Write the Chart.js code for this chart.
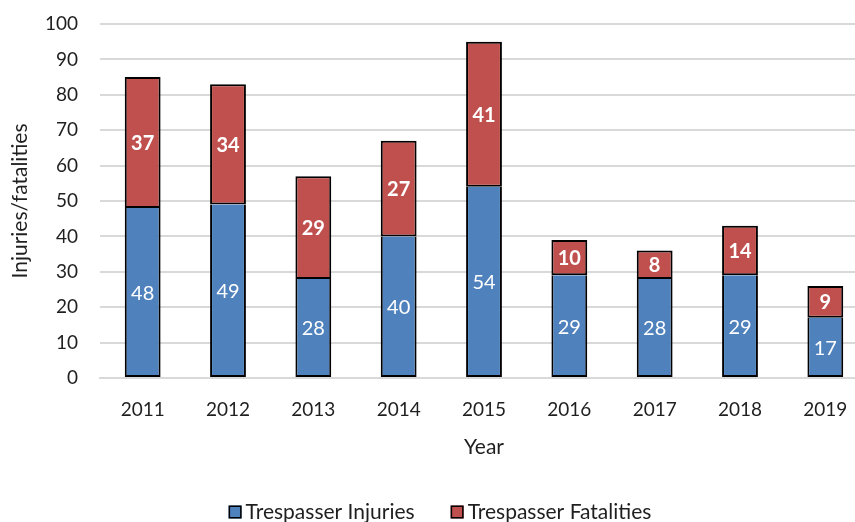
<!DOCTYPE html>
<html lang="en">
<head>
  <meta charset="UTF-8" />
  <title>Trespasser injuries and fatalities</title>
  <script src="https://cdn.jsdelivr.net/npm/chart.js"></script>
  <style>
    html, body { margin: 0; padding: 0; overflow: hidden; background: #fff; }
    #wrap { width: 870px; height: 522px; }
  </style>
</head>
<body>
  <div id="wrap"><canvas id="chart" width="870" height="522"></canvas></div>

  <script>
    const years = ["2011", "2012", "2013", "2014", "2015", "2016", "2017", "2018", "2019"];
    const injuries = [48, 49, 28, 40, 54, 29, 28, 29, 17];
    const fatalities = [37, 34, 29, 27, 41, 10, 8, 14, 9];

    const FONT = "Lato, 'Open Sans', sans-serif";
    const TEXT = "#1f1f1f";

    // value labels centred in each segment
    const valueLabels = {
      id: 'valueLabels',
      afterDatasetsDraw(chart) {
        const ctx = chart.ctx;
        ctx.save();
        ctx.fillStyle = '#fff';
        ctx.textAlign = 'center';
        ctx.textBaseline = 'middle';
        chart.data.datasets.forEach((ds, i) => {
          ctx.font = (i === 1 ? 'bold ' : '') + '20px ' + FONT;
          chart.getDatasetMeta(i).data.forEach((bar, j) => {
            const mid = (bar.y + bar.base) / 2;
            ctx.fillText(ds.data[j], bar.x, mid + 1);
          });
        });
        ctx.restore();
      }
    };

    // legend drawn below the axis title
    const bottomLegend = {
      id: 'bottomLegend',
      afterDraw(chart) {
        const ctx = chart.ctx;
        ctx.save();
        ctx.font = '21px ' + FONT;
        ctx.textBaseline = 'middle';
        const box = 13, gap = 4, spacing = 36, y = 512;
        const items = chart.data.datasets.map(ds => ({
          label: ds.label, color: ds.backgroundColor, w: ctx.measureText(ds.label).width
        }));
        let total = items.reduce((s, it) => s + box + gap + it.w, 0) + spacing * (items.length - 1);
        let x = 440 - total / 2;
        items.forEach(it => {
          ctx.fillStyle = it.color;
          ctx.fillRect(x, y - box / 2, box, box);
          ctx.strokeStyle = '#000';
          ctx.lineWidth = 1.5;
          ctx.strokeRect(x + 0.75, y - box / 2 + 0.75, box - 1.5, box - 1.5);
          ctx.fillStyle = TEXT;
          ctx.fillText(it.label, x + box + gap, y);
          x += box + gap + it.w + spacing;
        });
        ctx.restore();
      }
    };

    new Chart(document.getElementById('chart'), {
      type: 'bar',
      data: {
        labels: years,
        datasets: [{
          label: 'Trespasser Injuries',
          data: injuries,
          backgroundColor: '#4F81BD',
          borderColor: '#000',
          borderWidth: 2,
          borderSkipped: 'top'   // red segment above draws the shared edge
        }, {
          label: 'Trespasser Fatalities',
          data: fatalities,
          backgroundColor: '#C0504D',
          borderColor: '#000',
          borderWidth: 2,
          borderSkipped: false
        }]
      },
      options: {
        responsive: false,
        animation: false,
        layout: { padding: { top: 24, right: 2, bottom: 60, left: 0 } },
        datasets: { bar: { categoryPercentage: 1, barPercentage: 0.42 } },
        plugins: {
          legend: { display: false },
          tooltip: { enabled: false }
        },
        scales: {
          x: {
            stacked: true,
            grid: { display: false },
            border: { color: '#d9d9d9', width: 2 },
            ticks: { color: TEXT, font: { family: FONT, size: 19 }, padding: 12 },
            title: { display: true, text: 'Year', color: TEXT, font: { family: FONT, size: 21 }, padding: { top: 0, bottom: 2 } },
            afterFit(scale) { scale.height = 84; }
          },
          y: {
            stacked: true,
            min: 0,
            max: 100,
            ticks: { stepSize: 10, color: TEXT, font: { family: FONT, size: 19 }, padding: 0 },
            // invisible tick marks keep the labels clear of the plot
            grid: { color: '#d9d9d9', lineWidth: 2, tickLength: 22, tickColor: 'rgba(0,0,0,0)' },
            border: { display: false },
            title: { display: true, text: 'Injuries/fatalities', color: TEXT, font: { family: FONT, size: 21 }, padding: { top: 8, bottom: 0 } },
            afterFit(scale) { scale.width = 100; }
          }
        }
      },
      plugins: [valueLabels, bottomLegend]
    });
  </script>
</body>
</html>
